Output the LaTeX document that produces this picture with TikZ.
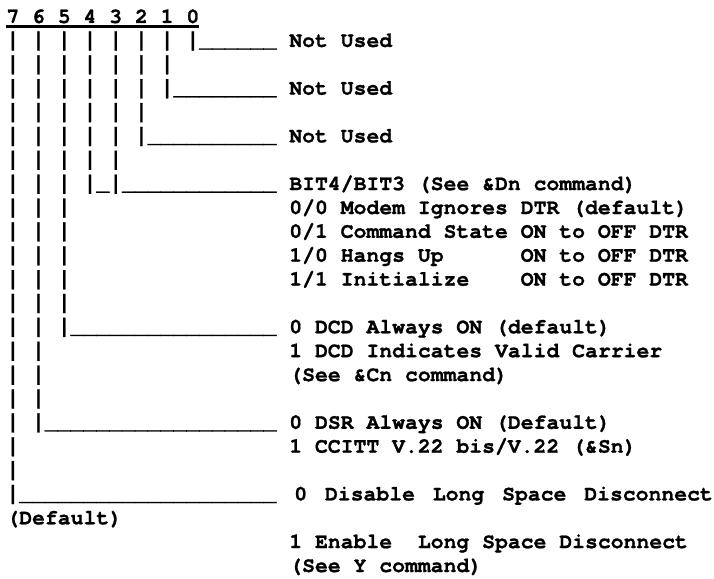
\documentclass[tikz,border=0pt]{standalone}
\usepackage{fontspec}
\usepackage{graphicx}
\newfontfamily\codefont{texgyrecursor}[Extension=.otf, UprightFont=*-regular, BoldFont=*-bold, BoldFeatures={FakeBold=1}]
\newcommand{\wsp}{\hspace*{17.86pt}}
\newcommand{\vb}{\scalebox{1}[1.15]{|}}
\begin{document}
\begin{tikzpicture}[x=1pt,y=-1pt,
  txt/.style={anchor=base west, inner sep=0pt, outer sep=0pt,
    font=\codefont\bfseries\fontsize{21.43pt}{24pt}\selectfont}]
\useasboundingbox (0,0) rectangle (714,578);
% row 0 : bit numbers, underlined
\node[txt] (r0) at (6.4,23.0) {7 6 5 4 3 2 1 0};
\coordinate (u1) at (6.4,26.7);
\coordinate (u2) at (199.3,26.7);
\draw[line width=2.8pt] (u1) -- (u2);
% left columns
\node[txt] (l1)  at (6.4,46.9)  {\vb{} \vb{} \vb{} \vb{} \vb{} \vb{} \vb{} \vb\_\_\_\_\_\_};
\node[txt] (l2)  at (6.4,70.7)  {\vb{} \vb{} \vb{} \vb{} \vb{} \vb{} \vb};
\node[txt] (l3)  at (6.4,94.6)  {\vb{} \vb{} \vb{} \vb{} \vb{} \vb{} \vb\_\_\_\_\_\_\_\_};
\node[txt] (l4)  at (6.4,118.5) {\vb{} \vb{} \vb{} \vb{} \vb{} \vb};
\node[txt] (l5)  at (6.4,142.4) {\vb{} \vb{} \vb{} \vb{} \vb{} \vb\_\_\_\_\_\_\_\_\_\_};
\node[txt] (l6)  at (6.4,166.2) {\vb{} \vb{} \vb{} \vb{} \vb};
\node[txt] (l7)  at (6.4,190.1) {\vb{} \vb{} \vb{} \vb\_\vb\_\_\_\_\_\_\_\_\_\_\_\_};
\node[txt] (l8)  at (6.4,214.0) {\vb{} \vb{} \vb};
\node[txt] (l9)  at (6.4,237.8) {\vb{} \vb{} \vb};
\node[txt] (l10) at (6.4,261.7) {\vb{} \vb{} \vb};
\node[txt] (l11) at (6.4,285.6) {\vb{} \vb{} \vb};
\node[txt] (l12) at (6.4,309.4) {\vb{} \vb{} \vb};
\node[txt] (l13) at (6.4,333.3) {\vb{} \vb{} \vb\_\_\_\_\_\_\_\_\_\_\_\_\_\_\_\_};
\node[txt] (l14) at (6.4,357.2) {\vb{} \vb};
\node[txt] (l15) at (6.4,381.1) {\vb{} \vb};
\node[txt] (l16) at (6.4,404.9) {\vb{} \vb};
\node[txt] (l17) at (6.4,428.8) {\vb{} \vb\_\_\_\_\_\_\_\_\_\_\_\_\_\_\_\_\_\_};
\node[txt] (l18) at (6.4,452.7) {\vb};
\node[txt] (l19) at (6.4,476.5) {\vb};
\node[txt] (l20) at (6.4,500.4) {\vb\_\_\_\_\_\_\_\_\_\_\_\_\_\_\_\_\_\_\_\_};
\node[txt] (l21) at (6.4,524.3) {(Default)};
% right column texts
\node[txt] (t1)  at (289.3,46.9)  {Not Used};
\node[txt] (t3)  at (289.3,94.6)  {Not Used};
\node[txt] (t5)  at (289.3,142.4) {Not Used};
\node[txt] (t7)  at (289.3,190.1) {BIT4/BIT3 (See \&Dn command)};
\node[txt] (t8)  at (289.3,214.0) {0/0 Modem Ignores DTR (default)};
\node[txt] (t9)  at (289.3,237.8) {0/1 Command State ON to OFF DTR};
\node[txt] (t10) at (289.3,261.7) {1/0 Hangs Up~~~~~~ON to OFF DTR};
\node[txt] (t11) at (289.3,285.6) {1/1 Initialize~~~~ON to OFF DTR};
\node[txt] (t13) at (289.3,333.3) {0 DCD Always ON (default)};
\node[txt] (t14) at (289.3,357.2) {1 DCD Indicates Valid Carrier};
\node[txt] (t15) at (289.3,381.1) {(See \&Cn command)};
\node[txt] (t17) at (289.3,428.8) {0 DSR Always ON (Default)};
\node[txt] (t18) at (289.3,452.7) {1 CCITT V.22 bis/V.22 (\&Sn)};
\node[txt] (t20) at (276.4,500.4) {\wsp 0\wsp Disable\wsp Long\wsp Space\wsp Disconnect};
\node[txt] (t22) at (289.3,548.1) {1 Enable~~Long Space Disconnect};
\node[txt] (t23) at (289.3,572.0) {(See Y command)};
\end{tikzpicture}
\end{document}
